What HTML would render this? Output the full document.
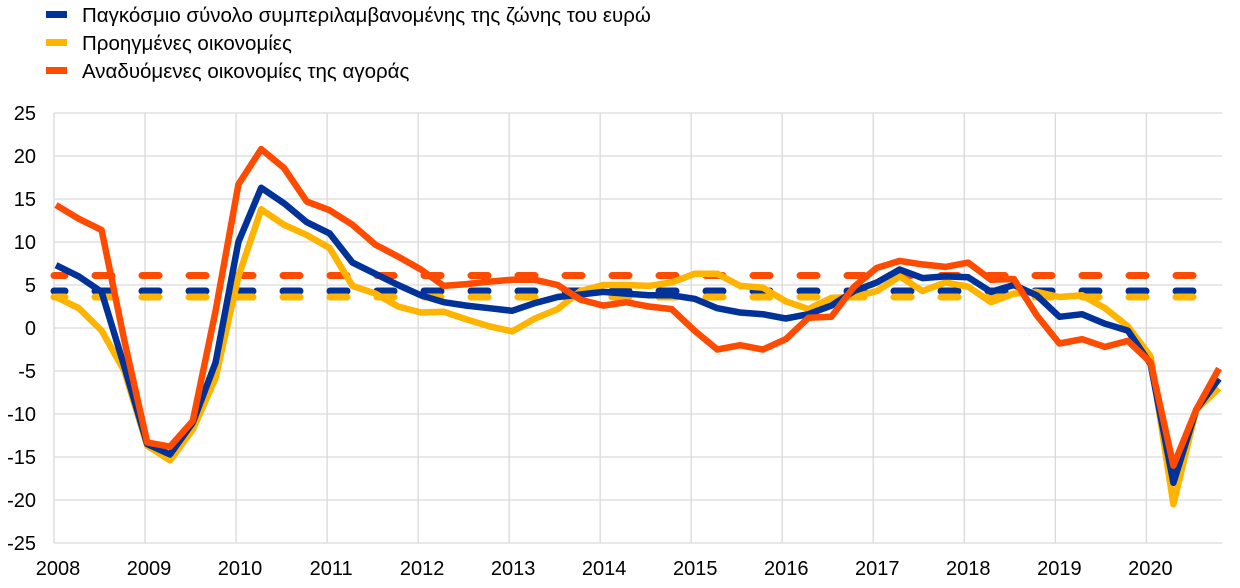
<!DOCTYPE html>
<html><head><meta charset="utf-8"><style>
html,body{margin:0;padding:0;background:#fff;}
svg{display:block;font-family:"Liberation Sans",sans-serif;}
</style></head><body>
<svg id="c" width="1240" height="588" viewBox="0 0 1240 588" xmlns="http://www.w3.org/2000/svg">
<rect x="46" y="11" width="21" height="7" fill="#003299"/>
<rect x="46" y="39" width="21" height="7" fill="#FFB400"/>
<rect x="46" y="67" width="21" height="7" fill="#FF4B00"/>
<text x="82" y="22" font-size="20.5" fill="#000">Παγκόσμιο σύνολο συμπεριλαμβανομένης της ζώνης του ευρώ</text>
<text x="82" y="50" font-size="20.5" fill="#000">Προηγμένες οικονομίες</text>
<text x="82" y="78" font-size="20.5" fill="#000">Αναδυόμενες οικονομίες της αγοράς</text>
<g id="grid" stroke="#d9d9d9" stroke-width="1.3"></g>
<g id="lab" font-size="20" fill="#000"></g>
<g id="ser" fill="none" stroke-linejoin="round"></g>
</svg>
<script>
var ns="http://www.w3.org/2000/svg";
function el(p,t,a,txt){var e=document.createElementNS(ns,t);for(var k in a)e.setAttribute(k,a[k]);if(txt!=null)e.textContent=txt;document.getElementById(p).appendChild(e);}
function Y(v){return 328-v*8.6;}
for(var v=-25;v<=25;v+=5){el("grid","line",{x1:54,x2:1222,y1:Y(v),y2:Y(v)});el("lab","text",{x:36,y:Y(v)+7,"text-anchor":"end"},String(v));}
for(var i=0;i<=12;i++){var x=54+i*91.03;el("grid","line",{x1:x,x2:x,y1:113,y2:543});el("lab","text",{x:x+4,y:575,"text-anchor":"middle"},String(2008+i));}
var blue=[7.3,6,4.2,-4.5,-13.5,-14.7,-11,-4,10,16.3,14.5,12.3,11,7.6,6.3,5,3.8,3,2.6,2.3,2,2.9,3.6,3.9,4.2,4,3.8,3.8,3.4,2.3,1.8,1.6,1.1,1.6,2.6,4.3,5.3,6.8,5.8,6,5.9,4.2,5,3.8,1.3,1.6,0.5,-0.3,-4.2,-18,-9.5,-5.9];
var yel=[3.6,2.3,-0.3,-5,-13.7,-15.4,-11.8,-5.8,6,13.8,12,10.8,9.3,4.9,4,2.5,1.8,1.9,1,0.2,-0.4,1.1,2.2,4.3,5,5,4.9,5.3,6.3,6.3,4.9,4.7,3.1,2.2,3.5,3.6,4.3,6,4.3,5.3,4.8,3,4,4.2,3.6,3.8,2.3,0.2,-3.3,-20.5,-9.5,-7];
var red=[14.3,12.7,11.4,-1.5,-13.3,-13.8,-10.8,2,16.7,20.8,18.6,14.7,13.7,12,9.7,8.3,6.8,4.9,5.1,5.4,5.6,5.6,5,3.3,2.6,3,2.5,2.2,-0.3,-2.5,-2,-2.5,-1.3,1.2,1.3,4.8,7,7.8,7.4,7.1,7.6,5.6,5.7,1.5,-1.8,-1.3,-2.2,-1.5,-4,-16,-9.5,-4.7];
function pts(a){var n=a.length,s=[];for(var i=0;i<n;i++){var x=56+i*(1219-56)/51;s.push(x.toFixed(1)+","+Y(a[i]).toFixed(1));}return s.join(" ");}
function dash(v,c){el("ser","line",{x1:54,x2:1222,y1:Y(v),y2:Y(v),stroke:c,"stroke-width":7,"stroke-dasharray":"17 30","stroke-dashoffset":6,"stroke-linecap":"round"});}
dash(6.1,"#FF4B00");dash(4.3,"#003299");dash(3.6,"#FFB400");
el("ser","polyline",{points:pts(yel),stroke:"#FFB400","stroke-width":6.5});
el("ser","polyline",{points:pts(blue),stroke:"#003299","stroke-width":6.5});
el("ser","polyline",{points:pts(red),stroke:"#FF4B00","stroke-width":6.5});
</script>
</body></html>
